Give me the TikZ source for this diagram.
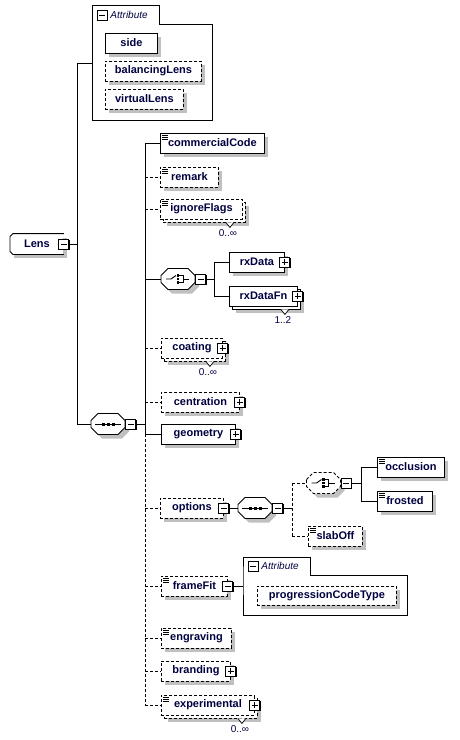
\documentclass[tikz,border=0pt]{standalone}
\usepackage{fontspec}
\setmainfont{Liberation Sans}
\usetikzlibrary{shadows}

\definecolor{xsdtext}{RGB}{0,0,64}
\definecolor{xsdshadow}{RGB}{192,192,192}
\newcommand{\xsdfont}{\fontsize{11}{13}\selectfont\bfseries}
\newcommand{\multfont}{\fontsize{10}{12}\selectfont}

\tikzset{
  boxshadow/.style={general shadow={fill=xsdshadow, draw=none, shadow xshift=4pt, shadow yshift=-4pt}},
  elem/.style={draw, fill=white, anchor=west, minimum height=20, inner sep=0pt,
               font=\xsdfont, text=xsdtext, boxshadow},
  optional/.style={dash pattern=on 3pt off 2pt},
  multi/.style={general shadow={fill=xsdshadow, draw=none, shadow xshift=7pt, shadow yshift=-7pt},
                general shadow={fill=white, draw=black, shadow xshift=3pt, shadow yshift=-3pt}},
  simple/.style={path picture={
      \foreach \dy in {2,4,6}
        \draw[solid, line width=0.7pt] ([shift={(1.5pt,-\dy pt)}]path picture bounding box.north west) -- ++(6pt,0pt);}},
  toggle/.style={draw, solid, fill=white, minimum size=10, inner sep=0pt,
                 general shadow={fill=black, draw=none, shadow xshift=1pt, shadow yshift=-1pt}},
  collapse/.style={toggle, path picture={
      \draw[line width=0.9pt] ([xshift=2pt]path picture bounding box.west) -- ([xshift=-2pt]path picture bounding box.east);}},
  expand/.style={toggle, path picture={
      \draw[line width=0.9pt] ([xshift=2pt]path picture bounding box.west) -- ([xshift=-2pt]path picture bounding box.east)
            ([yshift=-2pt]path picture bounding box.north) -- ([yshift=2pt]path picture bounding box.south);}},
  compositor/.style={minimum width=34, minimum height=21, inner sep=0pt},
  mult/.style={font=\multfont, text=xsdtext, inner sep=0pt},
  attrlabel/.style={font=\fontsize{10}{12}\selectfont\itshape, text=xsdtext, anchor=west, inner sep=0pt},
}

% octagon outline of a compositor node, with its shadow
\newcommand{\compshape}[2][]{%
  \begin{scope}[shift={(#2.center)}]
    \fill[xsdshadow, shift={(4,4)}] (-17,-3.5) -- (-10,-10.5) -- (10,-10.5) -- (17,-3.5)
      -- (17,3.5) -- (10,10.5) -- (-10,10.5) -- (-17,3.5) -- cycle;
    \filldraw[fill=white, #1] (-17,-3.5) -- (-10,-10.5) -- (10,-10.5) -- (17,-3.5)
      -- (17,3.5) -- (10,10.5) -- (-10,10.5) -- (-17,3.5) -- cycle;
  \end{scope}}
% sequence and choice symbols inside a compositor node
\newcommand{\seqsym}[1]{%
  \draw ([xshift=-13pt]#1.center) -- ([xshift=13pt]#1.center);
  \foreach \dx in {-5,0,5}
    \fill ([xshift=\dx pt]#1.center) +(-1.5,-1.5) rectangle +(1.5,1.5);
}
\newcommand{\choicesym}[1]{%
  \draw ([xshift=-12pt]#1.center) -- ([xshift=-7pt]#1.center) -- ([shift={(-2pt,3.5pt)}]#1.center);
  \draw ([yshift=3.5pt]#1.center) -| ([shift={(5pt,-3.5pt)}]#1.center) -- ([yshift=-3.5pt]#1.center)
        ([xshift=5pt]#1.center) -- ([xshift=11pt]#1.center);
  \foreach \dy in {-3.5,0,3.5}
    \fill ([yshift=\dy pt]#1.center) +(-1.2,-1.2) rectangle +(1.2,1.2);
}
% multiplicity notch and label under a repeated element
\newcommand{\multnote}[2]{%
  \draw[solid, fill=white, line width=0.7pt] ([shift={(-17pt,-3pt)}]#1.south east) -- ++(4,5) -- ++(4,-5);
  \node[mult] (#1-m) at ([shift={(-15pt,-14pt)}]#1.south east) {#2};
}

\begin{document}
\begin{tikzpicture}[x=1pt, y=-1pt, line width=0.9pt]
\useasboundingbox (0,0) rectangle (459,740);

% attributes of Lens
\draw (92,5) -- (159,5) -- (159,24) -- (212,24) -- (212,120) -- (92,120) -- cycle;
\coordinate (attr1) at (92,63);
\node[collapse] (attr1-t) at (102,15) {};
\node[attrlabel] (attr1-l) at (110,15) {Attribute};
\node[elem, minimum width=52] (side) at (105,43) {side};
\node[elem, optional, minimum width=96] (balancing) at (105,71) {balancingLens};
\node[elem, optional, minimum width=78] (virtual) at (105,99) {virtualLens};

% root
\node[elem, draw=none, minimum width=53] (lens) at (10,244) {Lens\hspace{16pt}};
\draw (lens.north east) -- ([xshift=3pt]lens.north west) -- ([yshift=-3pt]lens.north west)
  -- ([yshift=3pt]lens.south west) -- ([xshift=3pt]lens.south west) -- (lens.south east);
\node[collapse] (lens-t) at (lens.east) {};
\node[compositor] (seq1) at (108,424) {};
\compshape{seq1}
\seqsym{seq1}
\node[collapse, anchor=west] (seq1-t) at (seq1.east) {};

\coordinate (trunk) at (77,0);
\draw (lens-t.east) -- (lens-t.east -| trunk);
\draw (attr1) -| (seq1.west -| trunk) -- (seq1.west);

% children of the sequence
\node[elem, simple, minimum width=104] (code) at (160,143) {commercialCode};
\node[elem, optional, simple, minimum width=58] (remark) at (160,177) {remark};
\node[elem, optional, simple, multi, minimum width=82] (flags) at (160,209) {ignoreFlags};
\multnote{flags}{0..∞}

\node[compositor] (choice1) at (178,279) {};
\compshape{choice1}
\choicesym{choice1}
\node[collapse, anchor=west] (choice1-t) at (choice1.east) {};
\node[elem, minimum width=55] (rxdata) at (229,262) {rxData};
\node[expand] (rxdata-t) at (rxdata.east) {};
\node[elem, multi, minimum width=68] (rxdatafn) at (229,296) {rxDataFn};
\node[expand] (rxdatafn-t) at (rxdatafn.east) {};
\multnote{rxdatafn}{1..2}

\node[elem, optional, multi, minimum width=61] (coating) at (161,348) {coating};
\node[expand] (coating-t) at (coating.east) {};
\multnote{coating}{0..∞}
\node[elem, optional, minimum width=78] (centration) at (161,402) {centration};
\node[expand] (centration-t) at (centration.east) {};
\node[elem, minimum width=74] (geometry) at (161,434) {geometry};
\node[expand] (geometry-t) at (geometry.east) {};

\node[elem, optional, minimum width=63] (options) at (160,508) {options};
\node[collapse] (options-t) at (options.east) {};
\node[compositor] (seq2) at (255,508) {};
\compshape{seq2}
\seqsym{seq2}
\node[collapse, anchor=west] (seq2-t) at (seq2.east) {};
\node[compositor] (choice2) at (323.5,483) {};
\compshape[optional]{choice2}
\choicesym{choice2}
\node[collapse, anchor=west] (choice2-t) at (choice2.east) {};
\node[elem, simple, minimum width=67] (occlusion) at (377,467) {occlusion};
\node[elem, simple, minimum width=55] (frosted) at (377,501) {frosted};
\node[elem, optional, simple, minimum width=54] (slaboff) at (308,536) {slabOff};

\node[elem, optional, simple, minimum width=66] (framefit) at (161,586) {frameFit};
\node[collapse] (framefit-t) at (framefit.east) {};
\draw (243,575) -- (243,557) -- (310,557) -- (310,575) -- (407,575) -- (407,615) -- (243,615) -- cycle;
\coordinate (attr2) at (243,586);
\node[collapse] (attr2-t) at (253,566) {};
\node[attrlabel] (attr2-l) at (261,566) {Attribute};
\node[elem, optional, minimum width=139, minimum height=19] (progression) at (257,595.5) {progressionCodeType};

\node[elem, optional, simple, minimum width=70] (engraving) at (161,638) {engraving};
\node[elem, optional, minimum width=69] (branding) at (161,671) {branding};
\node[expand] (branding-t) at (branding.east) {};
\node[elem, optional, simple, multi, minimum width=93] (experimental) at (161,705) {experimental};
\node[expand] (experimental-t) at (experimental.east) {};
\multnote{experimental}{0..∞}

% main bus
\coordinate (bus1) at (145,0);
\draw (seq1-t.east) -- (seq1-t.east -| bus1);
\draw (code.west -| bus1) -- (geometry.west -| bus1);
\draw[optional] (geometry.west -| bus1) -- (experimental.west -| bus1);
\foreach \n in {code,choice1,geometry}
  \draw (\n.west -| bus1) -- (\n.west);
\foreach \n in {remark,flags,coating,centration,options,framefit,engraving,branding,experimental}
  \draw[optional] (\n.west -| bus1) -- (\n.west);

% choice of rxData
\coordinate (bus2) at (214,0);
\draw (choice1-t.east) -- (choice1-t.east -| bus2);
\draw (rxdata.west -| bus2) -- (rxdatafn.west -| bus2);
\foreach \n in {rxdata,rxdatafn}
  \draw (\n.west -| bus2) -- (\n.west);

% options content
\draw (options-t.east) -- (seq2.west);
\coordinate (bus3) at (292,0);
\draw (seq2-t.east) -- (seq2-t.east -| bus3);
\draw[optional] (choice2.west -| bus3) -- (slaboff.west -| bus3);
\foreach \n in {choice2,slaboff}
  \draw[optional] (\n.west -| bus3) -- (\n.west);
\coordinate (bus4) at (361,0);
\draw (choice2-t.east) -- (choice2-t.east -| bus4);
\draw (occlusion.west -| bus4) -- (frosted.west -| bus4);
\foreach \n in {occlusion,frosted}
  \draw (\n.west -| bus4) -- (\n.west);

\draw (framefit-t.east) -- (attr2);
\end{tikzpicture}
\end{document}
